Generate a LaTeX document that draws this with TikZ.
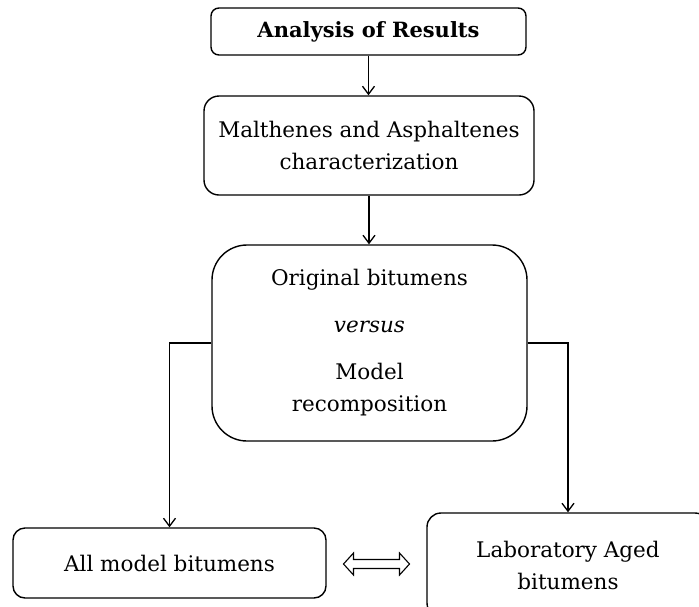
\documentclass[tikz,border=0pt]{standalone}
\usepackage{fontspec}
\setmainfont{DejaVu Serif}
\usetikzlibrary{arrows.meta,calc}
\begin{document}
\begin{tikzpicture}[x=1pt,y=-1pt,
  box/.style={draw, line width=1.4pt, rounded corners=#1, align=center, inner sep=0pt,
    font=\fontsize{21.5}{32}\selectfont},
  box/.default=12pt,
  arr/.style={-{Straight Barb[length=8pt,width=12pt]}, line width=1.3pt}]
\useasboundingbox (0,0) rectangle (699,606);
\node[box=8pt, minimum width=315pt, minimum height=47pt, font=\fontsize{21}{31}\selectfont] (b1) at (368.5,31.5) {\textbf{Analysis of Results}};
\node[box=15pt, minimum width=330pt, minimum height=99pt] (b2) at (369,145.5) {Malthenes and Asphaltenes\\characterization};
\node[box=35pt, minimum width=315pt, minimum height=196pt] (b3) at (369.5,343) {Original bitumens\\[15pt]\textit{versus}\\[15pt]Model\\recomposition};
\node[box=12pt, minimum width=313pt, minimum height=70pt] (b4) at (169.5,563) {All model bitumens};
\node[box=14pt, minimum width=282pt, minimum height=104pt] (b5) at (568,565) {Laboratory Aged\\bitumens};
\draw[arr] (b1.south) -- (b1.south |- b2.north);
\draw[arr] (b2.south) -- (b2.south |- b3.north);
\draw[arr] (b3.west) -| (b4.north);
\draw[arr] (b3.east) -| (b5.north);
\coordinate (da) at ($(b4.east)!0.5!(b5.west)$);
\draw[line width=1.1pt] ($(da)+(-33,0)$) -- ++(10,-11) -- ++(0,6.5) -- ++(46,0) -- ++(0,-6.5) -- ++(10,11) -- ++(-10,11) -- ++(0,-6.5) -- ++(-46,0) -- ++(0,6.5) -- cycle;
\end{tikzpicture}
\end{document}
